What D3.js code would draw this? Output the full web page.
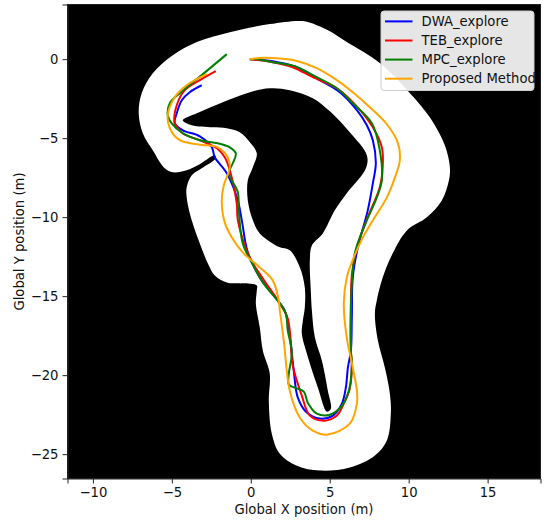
<!DOCTYPE html>
<meta charset="utf-8">
<title>Trajectories</title>
<style>
html, body { margin: 0; padding: 0; background: #fff; }
svg { display: block; }
text { font-family: "DejaVu Sans", sans-serif; fill: #111; }
.axis path, .axis line { stroke: #222; stroke-width: 1; }
.axis text { font-size: 13.2px; }
.label { font-size: 13.2px; }
.legend text { font-size: 13.2px; }
</style>
<body>
<svg width="544" height="521"></svg>
<script src="https://d3js.org/d3.v7.min.js"></script>
<script>

// axis ranges and ticks, metres
var xDomain = [-11.61, 18.35];
var yDomain = [-26.54, 3.46];
var xTicks = [-10, -5, 0, 5, 10, 15];
var yTicks = [-25, -20, -15, -10, -5, 0];

// free space outline and the obstacle inside it, metres
var mapOuter = [[3.30,2.41],[1.20,2.22],[-1.33,1.71],[-3.42,1.08],[-4.94,0.25],[-6.21,-0.89],[-6.91,-2.15],[-7.10,-3.42],[-6.84,-4.69],[-6.21,-5.77],[-5.45,-6.91],[-4.94,-7.16],[-4.06,-7.03],[-3.36,-6.72],[-2.28,-6.08],[-2.22,-6.27],[-3.11,-6.91],[-3.74,-7.35],[-4.06,-8.11],[-4.06,-8.75],[-3.74,-10.20],[-3.23,-11.66],[-2.72,-12.93],[-2.28,-13.69],[-1.52,-14.13],[-0.70,-14.19],[0.38,-14.32],[0.38,-14.64],[0.32,-15.46],[0.57,-16.98],[0.76,-18.44],[1.20,-19.90],[1.14,-21.61],[1.33,-23.70],[1.84,-24.97],[2.92,-25.73],[4.37,-26.04],[6.27,-25.85],[7.86,-25.09],[8.62,-24.14],[8.87,-22.43],[8.81,-21.17],[8.49,-19.52],[8.05,-17.81],[7.86,-16.10],[7.98,-15.27],[8.36,-13.81],[8.99,-12.29],[9.89,-10.84],[11.15,-10.01],[12.10,-8.94],[12.55,-7.67],[12.61,-6.84],[12.29,-5.45],[11.34,-3.68],[10.08,-2.15],[8.17,-0.25],[6.08,1.08],[5.01,1.77],[4.18,2.15]];
var mapIsland = [[-4.31,-3.87],[-3.42,-3.42],[-1.77,-2.72],[-0.25,-2.15],[1.20,-1.84],[2.47,-1.96],[3.93,-2.47],[5.01,-3.30],[6.27,-4.63],[7.35,-6.08],[7.29,-6.91],[6.08,-8.49],[5.32,-9.57],[4.56,-11.03],[3.87,-11.79],[3.74,-12.74],[3.80,-14.64],[3.87,-15.91],[4.06,-17.62],[4.50,-19.07],[4.88,-20.98],[5.07,-22.12],[4.82,-22.31],[4.25,-20.79],[3.55,-18.63],[3.23,-17.36],[3.30,-16.54],[3.42,-15.72],[3.42,-14.45],[3.11,-13.18],[2.47,-12.10],[1.84,-11.91],[1.39,-11.66],[0.57,-11.03],[0.13,-10.20],[-0.19,-8.94],[-0.19,-7.67],[0.13,-6.84],[0.38,-5.96],[-0.06,-5.26],[-0.70,-4.63],[-1.52,-4.37],[-2.41,-4.31],[-3.74,-4.18]];

// trajectories, metres
var dwaPath = [[-0.06,0],[1.39,-0.13],[2.92,-0.51],[4.37,-1.33],[5.64,-2.09],[6.72,-3.23],[7.35,-4.18],[7.73,-5.13],[7.92,-6.59],[7.73,-7.86],[7.41,-9.57],[6.78,-11.91],[6.46,-13.81],[6.40,-16.35],[6.34,-18.44],[6.15,-19.52],[6.02,-20.79],[5.77,-21.80],[5.20,-22.56],[4.37,-22.75],[3.55,-22.37],[2.98,-21.42],[2.72,-19.71],[2.47,-17.49],[2.15,-15.91],[1.71,-15.27],[0.57,-13.81],[-0.19,-12.23],[-0.57,-10.20],[-0.82,-8.94],[-1.52,-7.22],[-2.28,-6.21],[-2.47,-5.58],[-3.23,-4.88],[-4.31,-4.50],[-4.82,-4.06],[-4.69,-3.42],[-4.37,-2.60],[-3.87,-2.09],[-3.11,-1.65]];
var tebPath = [[-0.06,0],[1.39,-0.19],[2.66,-0.51],[3.93,-1.14],[5.45,-1.84],[6.46,-2.72],[7.73,-4.31],[8.30,-5.58],[8.36,-6.72],[8.17,-8.11],[7.35,-10.14],[6.72,-11.91],[6.40,-13.69],[6.34,-15.91],[6.34,-18.44],[6.40,-19.39],[6.27,-20.85],[5.83,-21.93],[5.45,-22.56],[4.69,-22.88],[3.74,-22.56],[3.23,-21.29],[2.66,-19.39],[2.34,-16.41],[1.71,-15.27],[0.76,-13.88],[-0.06,-12.55],[-0.82,-10.20],[-0.89,-9.13],[-1.33,-7.03],[-1.65,-6.21],[-2.15,-5.64],[-3.23,-5.13],[-4.31,-4.69],[-4.82,-3.99],[-4.69,-2.92],[-4.18,-1.96],[-3.23,-1.33],[-2.22,-0.76]];
var mpcPath = [[-0.06,0],[0.38,0],[1.39,-0.19],[2.79,-0.44],[3.93,-1.01],[5.45,-1.84],[6.46,-2.79],[7.67,-4.06],[8.17,-5.77],[8.30,-7.67],[7.98,-8.75],[7.35,-10.20],[6.91,-11.28],[6.59,-12.29],[6.40,-14.19],[6.34,-18.44],[6.40,-19.26],[6.21,-20.98],[5.77,-21.93],[5.01,-22.50],[4.18,-22.43],[3.61,-21.74],[3.36,-21.04],[2.79,-20.79],[2.41,-20.60],[2.41,-19.90],[2.60,-18.57],[2.34,-17.17],[2.22,-16.10],[1.84,-15.46],[0.76,-14.13],[0.06,-12.86],[-0.51,-11.66],[-0.76,-9.57],[-0.82,-8.43],[-1.39,-7.22],[-1.14,-6.59],[-0.95,-5.96],[-1.33,-5.58],[-2.09,-5.32],[-3.23,-5.13],[-4.31,-4.69],[-5.01,-4.06],[-5.26,-3.55],[-5.13,-2.79],[-4.50,-2.15],[-3.11,-1.01],[-1.52,0.32]];
var proposedPath = [[-0.06,0],[0.57,0.08],[1.84,0.04],[2.92,-0.11],[4.18,-0.57],[5.45,-1.33],[6.46,-2.09],[7.54,-3.04],[8.62,-4.12],[9.32,-5.32],[9.44,-6.40],[9.13,-7.48],[8.62,-8.75],[7.73,-10.20],[7.10,-11.28],[6.40,-12.86],[6.08,-13.81],[5.89,-15.46],[6.08,-17.62],[6.46,-19.52],[6.72,-20.98],[6.72,-21.80],[6.27,-23.07],[4.88,-23.76],[3.93,-23.51],[3.11,-22.69],[2.47,-20.98],[2.09,-17.81],[1.84,-15.91],[1.77,-15.27],[1.39,-14.00],[0.57,-13.18],[-0.51,-12.23],[-1.20,-11.28],[-1.65,-10.33],[-1.84,-8.94],[-1.71,-7.98],[-1.33,-6.84],[-1.46,-6.21],[-2.09,-5.58],[-3.42,-5.39],[-4.50,-5.13],[-5.13,-4.37],[-5.26,-3.55],[-4.82,-2.41],[-4.06,-1.65],[-2.79,-0.95]];

var seriesNames = ["DWA_explore", "TEB_explore", "MPC_explore", "Proposed Method"];
var seriesPaths = [dwaPath, tebPath, mpcPath, proposedPath];
var seriesColors = ["blue", "red", "green", "orange"];

var svg = d3.select("svg"),
    margin = {top: 4.5, right: 3.5, bottom: 42.5, left: 67.5},
    width = +svg.attr("width") - margin.left - margin.right,
    height = +svg.attr("height") - margin.top - margin.bottom;

var x = d3.scaleLinear().domain(xDomain).range([0, width]),
    y = d3.scaleLinear().domain(yDomain).range([height, 0]);

var g = svg.append("g")
    .attr("transform", "translate(" + margin.left + "," + margin.top + ")");

var line = d3.line()
    .x(function(d) { return x(d[0]); })
    .y(function(d) { return y(d[1]); });

var closedLine = d3.line()
    .x(function(d) { return x(d[0]); })
    .y(function(d) { return y(d[1]); })
    .curve(d3.curveCatmullRomClosed.alpha(0.5));

var openLine = line.curve(d3.curveCatmullRom.alpha(0.5));

// map background
g.append("rect").attr("width", width).attr("height", height).attr("fill", "#000");
g.append("path").attr("d", closedLine(mapOuter)).attr("fill", "#fff");
g.append("path").attr("d", closedLine(mapIsland)).attr("fill", "#000");

// trajectories
g.selectAll(".traj")
    .data(seriesPaths)
    .enter().append("path")
    .attr("class", "traj")
    .attr("fill", "none")
    .attr("stroke-width", 2)
    .attr("stroke", function(d, i) { return seriesColors[i]; })
    .attr("d", openLine);

// axes
var fmt = function(d) { return String(d).replace("-", "\u2212"); };

g.append("g")
    .attr("class", "axis")
    .attr("transform", "translate(0," + height + ")")
    .call(d3.axisBottom(x).tickValues(xTicks).tickFormat(fmt).tickSize(5).tickPadding(4));

g.append("g")
    .attr("class", "axis")
    .call(d3.axisLeft(y).tickValues(yTicks).tickFormat(fmt).tickSize(5).tickPadding(4));

g.selectAll(".axis text").attr("font-family", null);

g.append("rect")
    .attr("width", width).attr("height", height)
    .attr("fill", "none").attr("stroke", "#222").attr("stroke-width", 1);

svg.append("text")
    .attr("class", "label")
    .attr("x", margin.left + width / 2)
    .attr("y", 514)
    .attr("text-anchor", "middle")
    .text("Global X position (m)");

svg.append("text")
    .attr("class", "label")
    .attr("transform", "translate(24," + (margin.top + height / 2) + ") rotate(-90)")
    .attr("text-anchor", "middle")
    .text("Global Y position (m)");

// legend
var legend = svg.append("g").attr("class", "legend").attr("transform", "translate(381,11)");

legend.append("rect")
    .attr("width", 153).attr("height", 79.5).attr("rx", 3)
    .attr("fill", "#fff").attr("fill-opacity", 0.9)
    .attr("stroke", "#ccc").attr("stroke-width", 1);

var rows = legend.selectAll(".row")
    .data(seriesNames)
    .enter().append("g")
    .attr("class", "row")
    .attr("transform", function(d, i) { return "translate(0," + (10.4 + i * 19.1) + ")"; });

rows.append("line")
    .attr("x1", 4).attr("x2", 31.5)
    .attr("stroke-width", 2)
    .attr("stroke", function(d, i) { return seriesColors[i]; });

rows.append("text")
    .attr("x", 40.5)
    .attr("dy", "0.35em")
    .text(function(d) { return d; });

</script>
</body>
